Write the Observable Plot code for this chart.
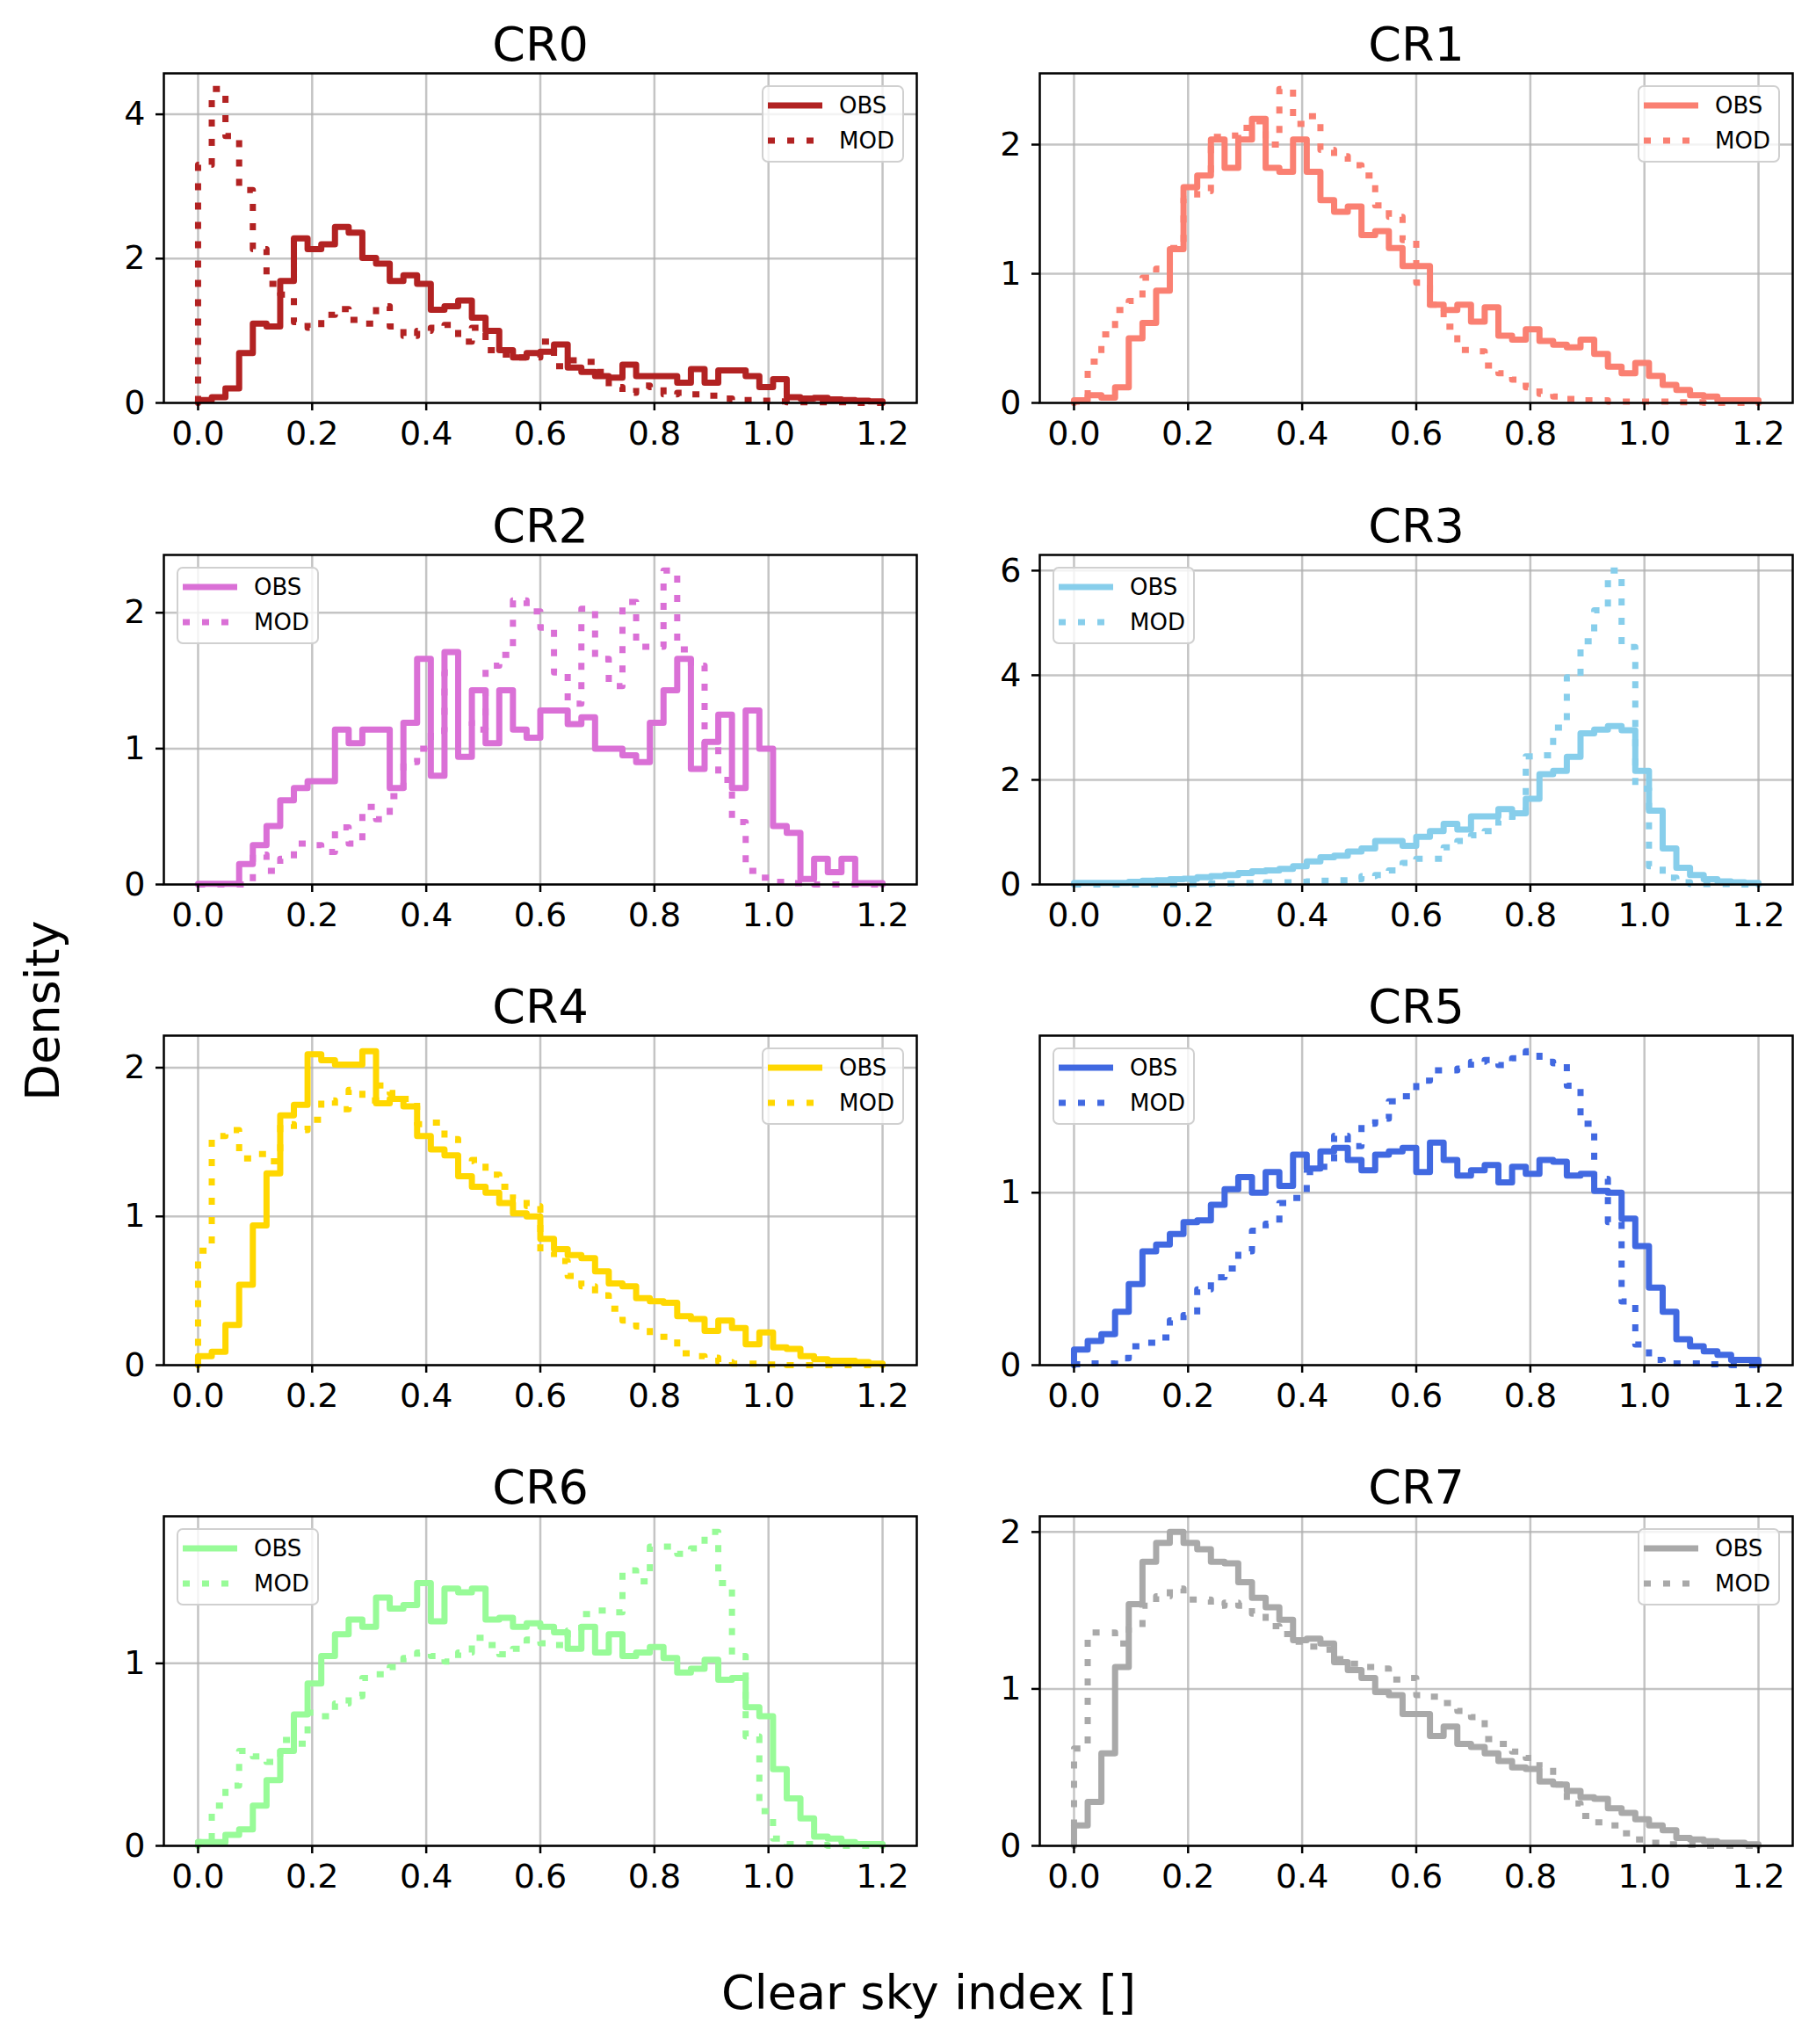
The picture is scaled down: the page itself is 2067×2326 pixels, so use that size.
<!DOCTYPE html>
<html>
<head>
<meta charset="utf-8">
<script src="https://cdn.jsdelivr.net/npm/d3@7"></script>
<script src="https://cdn.jsdelivr.net/npm/@observablehq/plot@0.6"></script>
<style>
  body { margin: 0; background: #fff; }
  #fig { position: relative; width: 2067px; height: 2326px; font-family: "DejaVu Sans", sans-serif; }
  .panel { position: absolute; }
  .legend { position: absolute; }
  .sup { position: absolute; font-size: 54px; line-height: 1; white-space: nowrap; color: #000; }
</style>
</head>
<body>
<div id="fig"></div>
<script>
// histogram bins: 50 bins of width 0.024 from 0 to 1.2
const binWidth = 0.024
const xTicks = [0, 0.2, 0.4, 0.6, 0.8, 1.0, 1.2]

const panelNames = ["CR0", "CR1", "CR2", "CR3", "CR4", "CR5", "CR6", "CR7"]
const panelColors = ["#b22222", "#fa8072", "#da70d6", "#87ceeb", "#ffd700", "#4169e1", "#98fb98", "#a9a9a9"]
const yTickSets = [[0, 2, 4], [0, 1, 2], [0, 1, 2], [0, 2, 4, 6], [0, 1, 2], [0, 1], [0, 1], [0, 1, 2]]
const legendSides = ["right", "right", "left", "left", "right", "left", "left", "right"]

// density per bin, OBS (solid) and MOD (dotted)
const cr0Obs = [0.04,0.08,0.2,0.69,1.1,1.06,1.69,2.28,2.13,2.2, 2.44,2.36,2.01,1.93,1.69,1.77,1.65,1.29,1.34,1.42, 1.18,1.0,0.73,0.63,0.69,0.71,0.81,0.49,0.43,0.37, 0.35,0.53,0.37,0.37,0.37,0.28,0.47,0.28,0.45,0.45, 0.37,0.22,0.33,0.08,0.06,0.07,0.05,0.04,0.03,0.02]
const cr0Mod = [3.3,4.35,3.7,2.95,2.13,1.65,1.5,1.12,1.04,1.22, 1.3,1.15,1.1,1.34,1.06,0.93,1.0,1.04,1.08,0.85, 1.04,0.73,0.67,0.63,0.63,0.85,0.51,0.59,0.57,0.43, 0.22,0.14,0.24,0.22,0.12,0.14,0.12,0.1,0.06,0.04, 0.04,0.03,0.02,0.01,0.01,0.01,0.01,0.01,0.0,0.0]

const cr1Obs = [0.02,0.06,0.04,0.12,0.5,0.62,0.87,1.19,1.67,1.76, 2.04,1.82,2.04,2.2,1.82,1.79,2.04,1.79,1.57,1.48, 1.52,1.3,1.33,1.2,1.06,1.06,0.76,0.72,0.76,0.63, 0.74,0.52,0.49,0.57,0.48,0.45,0.43,0.49,0.38,0.28, 0.23,0.31,0.21,0.14,0.1,0.06,0.05,0.02,0.02,0.02]
const cr1Mod = [0.01,0.32,0.53,0.72,0.79,0.97,1.04,1.2,1.58,1.64, 2.06,2.07,2.13,2.18,2.0,2.43,2.16,2.22,1.96,1.91, 1.84,1.76,1.53,1.44,1.26,0.93,0.76,0.59,0.41,0.4, 0.29,0.23,0.18,0.12,0.07,0.05,0.03,0.02,0.02,0.01, 0.01,0.01,0.01,0.01,0.005,0.005,0.0,0.0,0.0,0.0]

const cr2Obs = [0.005,0.005,0.005,0.15,0.29,0.43,0.62,0.71,0.76,0.76, 1.14,1.04,1.14,1.14,0.71,1.19,1.66,0.8,1.71,0.94, 1.43,1.04,1.43,1.14,1.08,1.28,1.28,1.18,1.23,1.0, 1.0,0.95,0.9,1.19,1.43,1.66,0.85,1.05,1.25,0.71, 1.28,1.0,0.43,0.38,0.04,0.19,0.09,0.19,0.01,0.01]
const cr2Mod = [0,0,0,0,0.22,0.1,0.19,0.3,0.29,0.24, 0.42,0.3,0.57,0.48,0.65,0.9,1.0,1.13,1.56,1.2, 1.14,1.61,1.69,2.09,2.01,1.89,1.56,1.33,2.03,1.66, 1.46,2.08,1.75,1.75,2.31,1.73,1.61,1.01,0.77,0.46, 0.1,0.05,0.02,0.01,0.01,0,0,0,0,0]

const cr3Obs = [0.03,0.03,0.03,0.03,0.05,0.07,0.08,0.1,0.11,0.14, 0.16,0.18,0.22,0.25,0.27,0.3,0.35,0.44,0.52,0.55, 0.63,0.69,0.83,0.83,0.74,0.91,1.02,1.16,1.05,1.3, 1.3,1.44,1.36,1.64,2.11,2.17,2.44,2.89,2.96,3.03, 2.95,2.17,1.41,0.69,0.32,0.18,0.1,0.06,0.04,0.03]
const cr3Mod = [0,0,0,0,0,0.005,0.005,0.01,0.01,0.01, 0.02,0.02,0.03,0.03,0.04,0.04,0.05,0.06,0.07,0.08, 0.1,0.16,0.18,0.27,0.41,0.49,0.49,0.71,0.83,0.94, 1.02,1.22,1.3,2.45,2.47,3.0,3.96,4.65,5.24,6.0, 4.54,1.83,0.35,0.13,0.04,0.01,0.01,0.01,0,0]

const cr4Obs = [0.06,0.09,0.27,0.54,0.94,1.29,1.68,1.75,2.09,2.05, 2.02,2.02,2.11,1.76,1.79,1.74,1.54,1.45,1.41,1.27, 1.2,1.16,1.09,1.02,1.0,0.85,0.78,0.74,0.72,0.63, 0.55,0.53,0.45,0.43,0.42,0.33,0.31,0.23,0.3,0.25, 0.14,0.22,0.12,0.11,0.06,0.04,0.03,0.03,0.02,0.01]
const cr4Mod = [0.77,1.54,1.58,1.39,1.42,1.37,1.62,1.58,1.65,1.78, 1.72,1.85,1.78,1.88,1.83,1.79,1.62,1.63,1.52,1.37, 1.38,1.28,1.2,1.12,1.07,0.76,0.7,0.6,0.53,0.47, 0.38,0.3,0.26,0.19,0.19,0.08,0.06,0.05,0.02,0.01, 0.01,0.005,0.005,0,0,0,0,0,0,0]

const cr5Obs = [0.09,0.14,0.18,0.31,0.47,0.66,0.7,0.76,0.83,0.84, 0.93,1.02,1.09,1.0,1.12,1.04,1.22,1.14,1.24,1.26, 1.19,1.13,1.22,1.24,1.26,1.12,1.29,1.19,1.1,1.13, 1.16,1.06,1.15,1.11,1.19,1.18,1.1,1.11,1.01,1.0, 0.85,0.69,0.45,0.31,0.15,0.11,0.08,0.06,0.03,0.03]
const cr5Mod = [0.005,0.01,0.01,0.04,0.11,0.13,0.16,0.26,0.29,0.44, 0.51,0.56,0.66,0.78,0.82,0.94,0.97,1.12,1.15,1.33, 1.27,1.4,1.43,1.53,1.56,1.65,1.71,1.71,1.72,1.76, 1.77,1.74,1.78,1.82,1.76,1.75,1.62,1.4,1.08,0.83, 0.37,0.12,0.03,0.01,0.01,0.01,0.005,0.005,0,0]

const cr6Obs = [0.02,0.02,0.06,0.09,0.22,0.36,0.52,0.72,0.89,1.04, 1.16,1.24,1.2,1.36,1.3,1.32,1.44,1.23,1.41,1.39, 1.41,1.24,1.25,1.2,1.22,1.2,1.17,1.08,1.2,1.06, 1.16,1.04,1.06,1.09,1.03,0.95,0.97,1.02,0.91,0.92, 0.76,0.71,0.42,0.26,0.15,0.05,0.04,0.02,0.01,0.01]
const cr6Mod = [0.02,0.22,0.33,0.52,0.49,0.46,0.58,0.56,0.73,0.71, 0.78,0.82,0.92,0.94,0.98,1.03,1.06,1.04,1.01,1.06, 1.14,1.1,1.05,1.08,1.13,1.11,1.1,1.18,1.27,1.29, 1.28,1.51,1.45,1.64,1.64,1.6,1.63,1.72,1.44,1.04, 0.6,0.19,0.04,0.01,0.01,0.005,0,0,0,0]

const cr7Obs = [0.13,0.28,0.59,1.14,1.54,1.81,1.93,2.0,1.93,1.89, 1.81,1.8,1.68,1.58,1.52,1.44,1.31,1.32,1.29,1.17, 1.12,1.07,0.98,0.96,0.84,0.84,0.7,0.76,0.65,0.63, 0.59,0.54,0.5,0.49,0.41,0.39,0.35,0.31,0.3,0.24, 0.21,0.17,0.13,0.1,0.05,0.04,0.03,0.02,0.02,0.01]
const cr7Mod = [0.62,1.36,1.36,1.29,1.39,1.53,1.59,1.64,1.57,1.57, 1.53,1.55,1.53,1.48,1.4,1.35,1.3,1.27,1.25,1.19, 1.16,1.14,1.13,1.06,1.07,0.96,0.95,0.91,0.86,0.82, 0.68,0.65,0.6,0.56,0.5,0.39,0.27,0.19,0.15,0.13, 0.08,0.04,0.02,0.01,0.01,0.005,0,0,0,0]

const obsSeries = [cr0Obs, cr1Obs, cr2Obs, cr3Obs, cr4Obs, cr5Obs, cr6Obs, cr7Obs]
const modSeries = [cr0Mod, cr1Mod, cr2Mod, cr3Mod, cr4Mod, cr5Mod, cr6Mod, cr7Mod]

// outline of a step histogram: up at the first edge, down at the last one
function steps(values) {
    const pts = [{ x: 0, y: 0 }]
    values.forEach((v, i) => pts.push({ x: i * binWidth, y: v }))
    pts.push({ x: values.length * binWidth, y: 0 })
    return pts
}

const fig = document.getElementById('fig')

// axes boxes in page pixels
const colLeft = [186, 1183]
const rowTop = [83, 631, 1178, 1725]
const axW = 857, axH = 375
const mL = 100, mR = 20, mT = 83, mB = 70

function legendBox(color) {
    const svg = d3.create('svg').attr('width', 162).attr('height', 88)
    svg.append('rect').attr('x', 1).attr('y', 1).attr('width', 160).attr('height', 86).attr('rx', 6)
        .attr('fill', 'white').attr('fill-opacity', 0.8).attr('stroke', '#d0d0d0').attr('stroke-width', 2)
    svg.append('line').attr('x1', 7).attr('x2', 69).attr('y1', 23).attr('y2', 23)
        .attr('stroke', color).attr('stroke-width', 7)
    svg.append('line').attr('x1', 7).attr('x2', 69).attr('y1', 63).attr('y2', 63)
        .attr('stroke', color).attr('stroke-width', 7).attr('stroke-dasharray', '8,14')
    const labels = [['OBS', 23], ['MOD', 63]]
    labels.forEach(([t, y]) => {
        svg.append('text').attr('x', 88).attr('y', y).attr('dy', '0.36em')
            .attr('font-family', 'DejaVu Sans').attr('font-size', 26).text(t)
    })
    return svg.node()
}

panelNames.forEach((name, k) => {
    const col = k % 2, row = Math.floor(k / 2)
    const obs = obsSeries[k], mod = modSeries[k]
    const color = panelColors[k]
    const yMax = d3.max([...obs, ...mod]) * 1.05
    const yTicks = yTickSets[k]

    const chart = Plot.plot({
        width: mL + axW + mR,
        height: mT + axH + mB,
        marginLeft: mL, marginRight: mR, marginTop: mT, marginBottom: mB,
        x: { domain: [-0.06, 1.26] },
        y: { domain: [0, yMax] },
        style: { fontFamily: 'DejaVu Sans', fontSize: '38px', color: 'black', background: 'transparent', overflow: 'visible' },
        marks: [
            Plot.gridX(xTicks, { stroke: '#b0b0b0', strokeOpacity: 0.75, strokeWidth: 2.5 }),
            Plot.gridY(yTicks, { stroke: '#b0b0b0', strokeOpacity: 0.75, strokeWidth: 2.5 }),
            Plot.line(steps(obs), { x: 'x', y: 'y', curve: 'step-after', stroke: color, strokeWidth: 7 }),
            Plot.line(steps(mod), { x: 'x', y: 'y', curve: 'step-after', stroke: color, strokeWidth: 7,
                strokeDasharray: '8,14', strokeLinecap: 'butt' }),
            Plot.frame({ stroke: 'black', strokeWidth: 2.5 }),
            Plot.axisX(xTicks, { tickFormat: d => d.toFixed(1), tickSize: 9, tickPadding: 12, strokeWidth: 2.5, label: null }),
            Plot.axisY(yTicks, { tickFormat: d => String(d), tickSize: 9, tickPadding: 12, strokeWidth: 2.5, label: null }),
            Plot.text([name], { text: d => d, frameAnchor: 'top', dy: -15, lineAnchor: 'bottom', fontSize: 54 })
        ]
    })
    chart.classList.add('panel')
    chart.style.left = (colLeft[col] - mL) + 'px'
    chart.style.top = (rowTop[row] - mT) + 'px'
    fig.append(chart)

    const leg = legendBox(color)
    leg.classList.add('legend')
    leg.style.left = (legendSides[k] === 'right' ? colLeft[col] + axW - 14 - 162 : colLeft[col] + 15) + 'px'
    leg.style.top = (rowTop[row] + 14) + 'px'
    fig.append(leg)
})

const xlab = document.createElement('div')
xlab.className = 'sup'
xlab.textContent = 'Clear sky index []'
xlab.style.left = '1057px'
xlab.style.top = '2241px'
xlab.style.transform = 'translateX(-50%)'
fig.append(xlab)

const ylab = document.createElement('div')
ylab.className = 'sup'
ylab.textContent = 'Density'
ylab.style.left = '49px'
ylab.style.top = '1150px'
ylab.style.transform = 'translate(-50%, -50%) rotate(-90deg)'
fig.append(ylab)
</script>
</body>
</html>
